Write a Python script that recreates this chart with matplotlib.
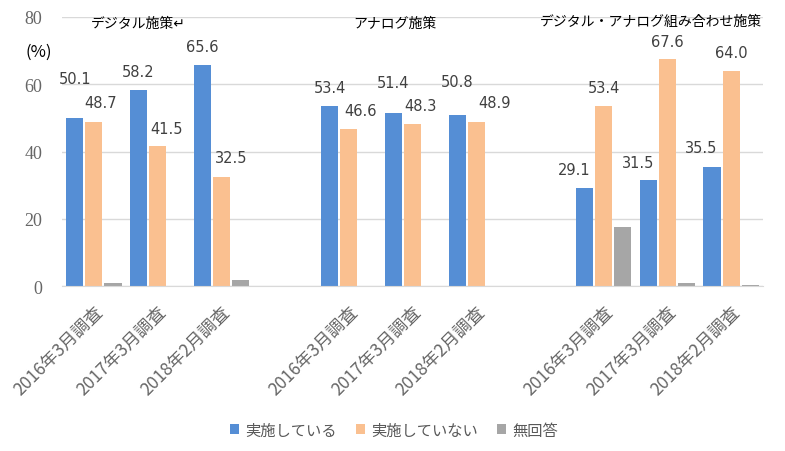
import numpy as np
import matplotlib
matplotlib.use("Agg")
import matplotlib.pyplot as plt
import matplotlib.transforms as mtransforms

plt.rcParams['font.family'] = ['Noto Sans CJK JP', 'DejaVu Sans']

# ---- data ----
categories = ['2016年3月調査', '2017年3月調査', '2018年2月調査', '',
              '2016年3月調査', '2017年3月調査', '2018年2月調査', '',
              '2016年3月調査', '2017年3月調査', '2018年2月調査']
group_titles = ['デジタル施策↵', 'アナログ施策', 'デジタル・アナログ組み合わせ施策']
series_names = ['実施している', '実施していない', '無回答']
jisshi = [50.1, 58.2, 65.6, np.nan, 53.4, 51.4, 50.8, np.nan, 29.1, 31.5, 35.5]
mijisshi = [48.7, 41.5, 32.5, np.nan, 46.6, 48.3, 48.9, np.nan, 53.4, 67.6, 64.0]
mukaitou = [0.9, 0.0, 1.8, np.nan, np.nan, np.nan, np.nan, np.nan, 17.6, 0.8, 0.4]
y_ticks = [0, 20, 40, 60, 80]

# label offsets in pixels (dx, dy from bar top centre) - layout only
blue_off = [(0, 39), (0, 19), (0, 19), None, (0, 19), (0, 31), (0, 34), None,
            (-10, 19), (-10, 18), (-11, 19)]
orange_off = [(7, 20), (9, 18), (10, 19), None, (12, 19), (8, 18), (18, 19), None,
              (0, 19), (0, 17), (0, 18)]

colors = ['#558ed5', '#fac090', '#a6a6a6']

fig = plt.figure(figsize=(7.85, 4.52), dpi=100)
ax = fig.add_axes([62/785, 1-287/452, 701/785, 269/452])

x = np.arange(len(categories))
w = 0.27
off = 0.30
b1 = ax.bar(x - off, jisshi, w, color=colors[0], label=series_names[0], zorder=3)
b2 = ax.bar(x, mijisshi, w, color=colors[1], label=series_names[1], zorder=3)
b3 = ax.bar(x + off, mukaitou, w, color=colors[2], label=series_names[2], zorder=3)

for bars, vals, offs in [(b1, jisshi, blue_off), (b2, mijisshi, orange_off)]:
    for rect, v, o in zip(bars, vals, offs):
        if o is None or np.isnan(v):
            continue
        ax.annotate(f'{v:.1f}', (rect.get_x() + rect.get_width()/2, v),
                    xytext=o, textcoords='offset pixels', ha='center', va='center',
                    fontsize=10.5, color='#404040', family='DejaVu Sans')

ax.set_xlim(-0.5, 10.5)
ax.set_ylim(0, 80)
ax.set_yticks(y_ticks)
ax.set_yticklabels([str(t) for t in y_ticks], family='Liberation Serif',
                   fontsize=13, color='#666666')
ax.yaxis.grid(True, color='#d9d9d9', linewidth=1, zorder=0)
ax.tick_params(axis='both', length=0)
ax.tick_params(axis='y', pad=14)
for s in ['top', 'right', 'left']:
    ax.spines[s].set_visible(False)
ax.spines['bottom'].set_color('#d9d9d9')
ax.spines['bottom'].set_zorder(4)

ax.set_xticks(x)
ax.set_xticklabels(categories, rotation=45, ha='right', va='center',
                   rotation_mode='anchor', fontsize=12.5, color='#666666')
ax.tick_params(axis='x', pad=16)
shift = mtransforms.ScaledTranslation(6/100, 0, fig.dpi_scale_trans)
for lbl in ax.get_xticklabels():
    lbl.set_transform(lbl.get_transform() + shift)

# group titles
ax.text(76/701, (287-24)/269, group_titles[0], transform=ax.transAxes,
        ha='center', va='center', fontsize=10, color='black')
ax.text(333/701, (287-24)/269, group_titles[1], transform=ax.transAxes,
        ha='center', va='center', fontsize=10, color='black')
ax.text(589/701, (287-22)/269, group_titles[2], transform=ax.transAxes,
        ha='center', va='center', fontsize=10, color='black')

fig.text(39/785, 1-52/452, '(%)', ha='center', va='center', fontsize=12,
         color='black')

fig.legend(handles=[b1, b2, b3], labels=series_names, loc='center',
           bbox_to_anchor=(394/785, 1-431/452), ncol=3, frameon=False,
           handlelength=0.55, handleheight=0.55, handletextpad=0.4,
           columnspacing=1.3, fontsize=11, labelcolor='#595959')

fig.savefig('out.png', dpi=100)
